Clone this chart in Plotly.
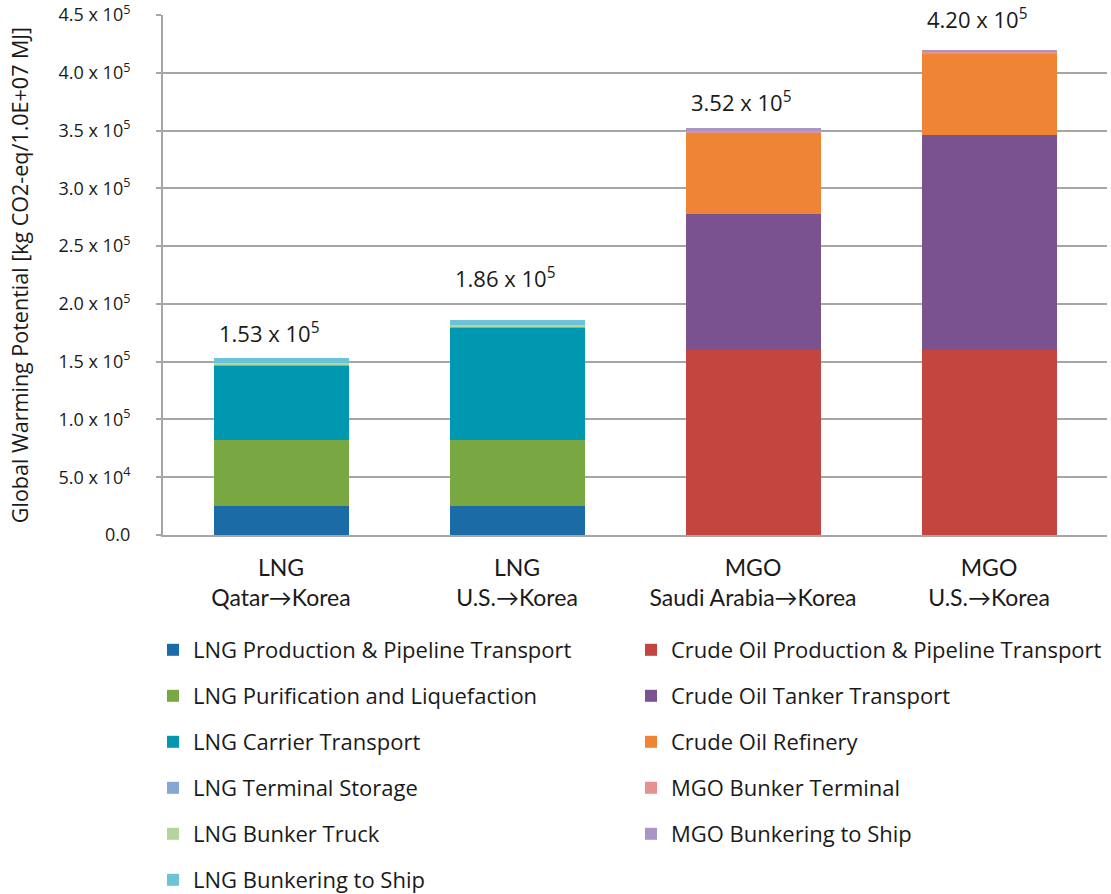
import plotly.graph_objects as go

# Supply chain pathways (x categories)
categories = ["LNG<br>Qatar→Korea", "LNG<br>U.S.→Korea",
              "MGO<br>Saudi Arabia→Korea", "MGO<br>U.S.→Korea"]

# Global warming potential per stage [kg CO2-eq / 1.0E+07 MJ]
lng_production = [25000, 25000, 0, 0]
lng_purification = [57500, 57500, 0, 0]
lng_carrier = [63500, 96500, 0, 0]
lng_terminal = [1800, 1800, 0, 0]
lng_truck = [900, 900, 0, 0]
lng_bunkering = [4300, 4300, 0, 0]

crude_production = [0, 0, 160000, 160000]
crude_tanker = [0, 0, 118000, 186500]
crude_refinery = [0, 0, 70500, 70500]
mgo_terminal = [0, 0, 1500, 1300]
mgo_bunkering = [0, 0, 2000, 1700]

# y-axis ticks
tick_values = [0, 50000, 100000, 150000, 200000, 250000, 300000, 350000, 400000, 450000]
tick_labels = ["0.0", "5.0 x 10<sup>4</sup>", "1.0 x 10<sup>5</sup>", "1.5 x 10<sup>5</sup>",
               "2.0 x 10<sup>5</sup>", "2.5 x 10<sup>5</sup>", "3.0 x 10<sup>5</sup>",
               "3.5 x 10<sup>5</sup>", "4.0 x 10<sup>5</sup>", "4.5 x 10<sup>5</sup>"]

FONT = "Open Sans"
CAT_FONT = "Lato"
TEXT = "#1a1a1a"
W, H = 1111, 894
L, R, T, B = 163, 4, 15, 359
PW, PH = W - L - R, H - T - B

lng_series = [
    ("LNG Production & Pipeline Transport", lng_production, "#1a6ba6"),
    ("LNG Purification and Liquefaction", lng_purification, "#79a843"),
    ("LNG Carrier Transport", lng_carrier, "#0098b1"),
    ("LNG Terminal Storage", lng_terminal, "#86a7d4"),
    ("LNG Bunker Truck", lng_truck, "#b3d59a"),
    ("LNG Bunkering to Ship", lng_bunkering, "#6cc2d8"),
]
mgo_series = [
    ("Crude Oil Production & Pipeline Transport", crude_production, "#c4443f"),
    ("Crude Oil Tanker Transport", crude_tanker, "#7a528f"),
    ("Crude Oil Refinery", crude_refinery, "#ef8534"),
    ("MGO Bunker Terminal", mgo_terminal, "#e3928e"),
    ("MGO Bunkering to Ship", mgo_bunkering, "#a996c6"),
]

fig = go.Figure()
for legend_id, series in (("legend", lng_series), ("legend2", mgo_series)):
    for name, values, color in series:
        fig.add_trace(go.Bar(
            x=categories, y=values, name=name, legend=legend_id,
            legendgroup=name,
            marker=dict(color=color, line=dict(width=0)),
            hoverinfo="name+y",
        ))

# Totals written above each stacked bar
all_series = [s[1] for s in lng_series + mgo_series]
totals = [sum(vals[i] for vals in all_series) for i in range(len(categories))]
label_offsets = [26, 43, 27, 31]
for cat, total, off in zip(categories, totals, label_offsets):
    fig.add_annotation(
        x=cat, y=total, text=f"{total / 1e5:.2f} x 10<sup>5</sup>",
        showarrow=False, yanchor="middle", yshift=off, xshift=-12,
        font=dict(family=FONT, size=22, color=TEXT),
    )


def px_x(px):
    return (px - L) / PW


def px_y(px):
    return (H - B - px) / PH


legend_common = dict(
    orientation="v", yanchor="top", xanchor="left", bgcolor="rgba(0,0,0,0)",
    font=dict(family=FONT, size=22, color=TEXT),
    tracegroupgap=14.4, itemclick=False, itemdoubleclick=False,
)

fig.update_layout(
    width=W, height=H,
    margin=dict(l=L, r=R, t=T, b=B, autoexpand=False),
    paper_bgcolor="white", plot_bgcolor="white",
    barmode="stack", bargap=0.428,
    font=dict(family=FONT, color=TEXT),
    legend=dict(legend_common, x=px_x(153), y=px_y(629)),
    legend2=dict(legend_common, x=px_x(631), y=px_y(629)),
    xaxis=dict(
        type="category", automargin=False,
        showline=True, linecolor="#a6a6a6", linewidth=2,
        ticks="", ticklabelstandoff=11,
        tickfont=dict(family=CAT_FONT, size=23, color=TEXT),
        showgrid=False,
    ),
    yaxis=dict(
        automargin=False,
        range=[0, 450000], tickvals=tick_values, ticktext=tick_labels,
        showline=True, linecolor="#a6a6a6", linewidth=2,
        ticks="outside", ticklen=5, tickcolor="#a6a6a6", tickwidth=2,
        ticklabelstandoff=22,
        tickfont=dict(family=FONT, size=18, color=TEXT),
        showgrid=True, gridcolor="#a6a6a6", gridwidth=1.5,
        zeroline=False,
        title=dict(text="Global Warming Potential [kg CO2-eq/1.0E+07 MJ]",
                   font=dict(family=FONT, size=21.5, color=TEXT), standoff=24),
    ),
)

fig.write_html("out.html")
